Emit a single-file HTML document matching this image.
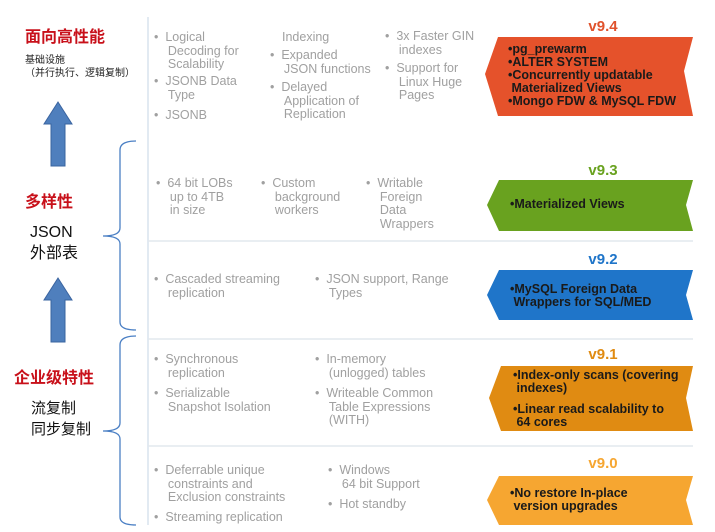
<!DOCTYPE html>
<html><head><meta charset="utf-8"><style>
body{margin:0;width:715px;height:532px;background:#fff;position:relative;overflow:hidden;font-family:"Liberation Sans",Arial,sans-serif}
.a{position:absolute;white-space:nowrap}
.g{color:#a0a0a0;font-size:12.5px;line-height:13.5px}
.b{position:absolute;font-weight:bold;font-size:12.5px;line-height:13px;color:#1a1a1a;white-space:nowrap}
.v{position:absolute;font-weight:bold;font-size:15px;width:100px;text-align:center}
.cn{font-family:"Liberation Sans","Noto Sans CJK SC",sans-serif}
</style></head><body>
<svg width="715" height="532" style="position:absolute;left:0;top:0">
<line x1="148" y1="17" x2="148" y2="525" stroke="#d8e3ee" stroke-width="1.5"/>
<line x1="148" y1="241" x2="693" y2="241" stroke="#e2e8ee" stroke-width="1.5"/>
<line x1="148" y1="339" x2="693" y2="339" stroke="#e2e8ee" stroke-width="1.5"/>
<line x1="148" y1="446" x2="693" y2="446" stroke="#e2e8ee" stroke-width="1.5"/>
<polygon points="498,37 693,37 684,71 693,116 498,116 485,74" fill="#e5522b"/>
<polygon points="499,180 693,180 686,205 693,231 499,231 487,205" fill="#69a21f"/>
<polygon points="499,270 693,270 686,295 693,320 499,320 487,295" fill="#1f75c9"/>
<polygon points="501,366 693,366 686,398 693,431 501,431 489,398" fill="#e08b12"/>
<polygon points="499,476 693,476 686,500 693,525 499,525 487,500" fill="#f6a631"/>
<polygon points="51,166 51,124 44,124 58,102 72,124 65,124 65,166" fill="#4f7fbd" stroke="#3a64a0" stroke-width="1"/>
<polygon points="51,342 51,300 44,300 58,278 72,300 65,300 65,342" fill="#4f7fbd" stroke="#3a64a0" stroke-width="1"/>
<path d="M136,141 Q120,141 120,150 L120,228 Q120,236 103,236 Q120,236 120,244 L120,322 Q120,330 136,330" fill="none" stroke="#4a7fc4" stroke-width="1.3"/>
<path d="M136,336 Q120,336 120,345 L120,423 Q120,431 103,431 Q120,431 120,439 L120,517 Q120,525 136,525" fill="none" stroke="#4a7fc4" stroke-width="1.3"/>
</svg>
<div class="a cn" style="left:25px;top:23px;font-size:16px;font-weight:bold;color:#c8101a">面向高性能</div>
<div class="a cn" style="left:25px;top:51px;font-size:10px;color:#222">基础设施</div>
<div class="a cn" style="left:25px;top:64px;font-size:10px;color:#222">（并行执行、逻辑复制）</div>
<div class="a cn" style="left:25px;top:188px;font-size:16px;font-weight:bold;color:#c8101a">多样性</div>
<div class="a cn" style="left:30px;top:222px;font-size:16px;line-height:21px;color:#111">JSON<br>外部表</div>
<div class="a cn" style="left:14px;top:364px;font-size:16px;font-weight:bold;color:#c8101a">企业级特性</div>
<div class="a cn" style="left:31px;top:398px;font-size:15px;line-height:21px;color:#111">流复制<br>同步复制</div>

<div class="a g" style="left:154px;top:31px">•&nbsp;&nbsp;Logical<br>&nbsp;&nbsp;&nbsp;&nbsp;Decoding for<br>&nbsp;&nbsp;&nbsp;&nbsp;Scalability</div>
<div class="a g" style="left:154px;top:75px">•&nbsp;&nbsp;JSONB Data<br>&nbsp;&nbsp;&nbsp;&nbsp;Type</div>
<div class="a g" style="left:154px;top:109px">•&nbsp;&nbsp;JSONB</div>
<div class="a g" style="left:282px;top:31px">Indexing</div>
<div class="a g" style="left:270px;top:49px">•&nbsp;&nbsp;Expanded<br>&nbsp;&nbsp;&nbsp;&nbsp;JSON functions</div>
<div class="a g" style="left:270px;top:81px">•&nbsp;&nbsp;Delayed<br>&nbsp;&nbsp;&nbsp;&nbsp;Application of<br>&nbsp;&nbsp;&nbsp;&nbsp;Replication</div>
<div class="a g" style="left:385px;top:30px">•&nbsp;&nbsp;3x Faster GIN<br>&nbsp;&nbsp;&nbsp;&nbsp;indexes</div>
<div class="a g" style="left:385px;top:62px">•&nbsp;&nbsp;Support for<br>&nbsp;&nbsp;&nbsp;&nbsp;Linux Huge<br>&nbsp;&nbsp;&nbsp;&nbsp;Pages</div>

<div class="a g" style="left:156px;top:177px">•&nbsp;&nbsp;64 bit LOBs<br>&nbsp;&nbsp;&nbsp;&nbsp;up to 4TB<br>&nbsp;&nbsp;&nbsp;&nbsp;in size</div>
<div class="a g" style="left:261px;top:177px">•&nbsp;&nbsp;Custom<br>&nbsp;&nbsp;&nbsp;&nbsp;background<br>&nbsp;&nbsp;&nbsp;&nbsp;workers</div>
<div class="a g" style="left:366px;top:177px">•&nbsp;&nbsp;Writable<br>&nbsp;&nbsp;&nbsp;&nbsp;Foreign<br>&nbsp;&nbsp;&nbsp;&nbsp;Data<br>&nbsp;&nbsp;&nbsp;&nbsp;Wrappers</div>

<div class="a g" style="left:154px;top:273px">•&nbsp;&nbsp;Cascaded streaming<br>&nbsp;&nbsp;&nbsp;&nbsp;replication</div>
<div class="a g" style="left:315px;top:273px">•&nbsp;&nbsp;JSON support, Range<br>&nbsp;&nbsp;&nbsp;&nbsp;Types</div>

<div class="a g" style="left:154px;top:353px">•&nbsp;&nbsp;Synchronous<br>&nbsp;&nbsp;&nbsp;&nbsp;replication</div>
<div class="a g" style="left:154px;top:387px">•&nbsp;&nbsp;Serializable<br>&nbsp;&nbsp;&nbsp;&nbsp;Snapshot Isolation</div>
<div class="a g" style="left:315px;top:353px">•&nbsp;&nbsp;In-memory<br>&nbsp;&nbsp;&nbsp;&nbsp;(unlogged) tables</div>
<div class="a g" style="left:315px;top:387px">•&nbsp;&nbsp;Writeable Common<br>&nbsp;&nbsp;&nbsp;&nbsp;Table Expressions<br>&nbsp;&nbsp;&nbsp;&nbsp;(WITH)</div>

<div class="a g" style="left:154px;top:464px">•&nbsp;&nbsp;Deferrable unique<br>&nbsp;&nbsp;&nbsp;&nbsp;constraints and<br>&nbsp;&nbsp;&nbsp;&nbsp;Exclusion constraints</div>
<div class="a g" style="left:154px;top:511px">•&nbsp;&nbsp;Streaming replication</div>
<div class="a g" style="left:328px;top:464px">•&nbsp;&nbsp;Windows<br>&nbsp;&nbsp;&nbsp;&nbsp;64 bit Support</div>
<div class="a g" style="left:328px;top:498px">•&nbsp;&nbsp;Hot standby</div>

<div class="v" style="left:553px;top:18px;color:#e0522c">v9.4</div>
<div class="b" style="left:508px;top:43px">•pg_prewarm<br>•ALTER SYSTEM<br>•Concurrently updatable<br>&nbsp;Materialized Views<br>•Mongo FDW &amp; MySQL FDW</div>
<div class="v" style="left:553px;top:162px;color:#69a21f">v9.3</div>
<div class="b" style="left:510px;top:198px">•Materialized Views</div>
<div class="v" style="left:553px;top:251px;color:#1f75c9">v9.2</div>
<div class="b" style="left:510px;top:283px">•MySQL Foreign Data<br>&nbsp;Wrappers for SQL/MED</div>
<div class="v" style="left:553px;top:346px;color:#e08b12">v9.1</div>
<div class="b" style="left:513px;top:369px">•Index-only scans (covering<br>&nbsp;indexes)</div>
<div class="b" style="left:513px;top:403px">•Linear read scalability to<br>&nbsp;64 cores</div>
<div class="v" style="left:553px;top:455px;color:#f6a631">v9.0</div>
<div class="b" style="left:510px;top:487px">•No restore In-place<br>&nbsp;version upgrades</div>
</body></html>
